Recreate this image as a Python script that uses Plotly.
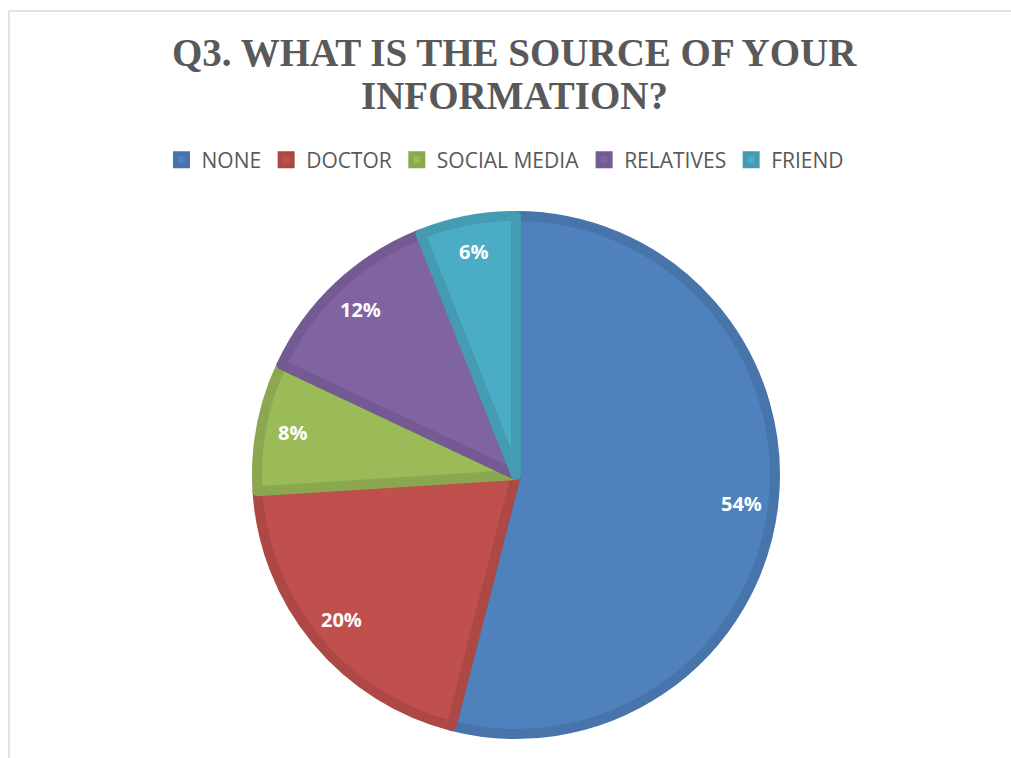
import math
import plotly.graph_objects as go

# Survey answers: source of information
categories = ["NONE", "DOCTOR", "SOCIAL MEDIA", "RELATIVES", "FRIEND"]
shares = [54, 20, 8, 12, 6]

fill_colors = ["#4F81BD", "#C0504D", "#9BBB59", "#8064A2", "#4BACC6"]
edge_colors = ["#4774AA", "#AD4845", "#8BA850", "#735A92", "#449BB2"]

title_lines = ["Q3. WHAT IS THE SOURCE OF YOUR", "INFORMATION?"]

W, H = 1011, 758
CX, CY, R = 516, 475, 264      # pie centre and outer radius in pixels
EDGE = 10                      # slice outline width

r_in = R - EDGE / 2
fig = go.Figure(
    go.Pie(
        labels=categories,
        values=shares,
        sort=False,
        direction="clockwise",
        rotation=0,
        marker=dict(colors=fill_colors, line=dict(color=edge_colors, width=EDGE)),
        textinfo="none",
        hoverinfo="label+percent",
        domain=dict(
            x=[(CX - r_in) / W, (CX + r_in) / W],
            y=[1 - (CY + r_in) / H, 1 - (CY - r_in) / H],
        ),
    )
)

# percentage labels placed along each slice's bisector
annotations = []
total = sum(shares)
cum = 0
for v in shares:
    theta = 2 * math.pi * (cum + v / 2) / total
    cum += v
    rr = 0.86 * R
    px = CX + rr * math.sin(theta)
    py = CY - rr * math.cos(theta)
    annotations.append(dict(
        x=px / W, y=1 - py / H, xref="paper", yref="paper",
        text=f"{round(100 * v / total)}%", showarrow=False,
        font=dict(family="Open Sans", size=20, color="white", weight="bold"),
        xanchor="center", yanchor="middle",
    ))

# two-line title
for i, line in enumerate(title_lines):
    annotations.append(dict(
        x=514 / W, y=1 - (67 + 43 * i) / H, xref="paper", yref="paper",
        text=f"<b>{line}</b>", showarrow=False,
        font=dict(family="Liberation Serif", size=39, color="#595959"),
        xanchor="center", yanchor="bottom", yshift=-9,
    ))

fig.update_layout(
    width=W, height=H,
    margin=dict(l=0, r=0, t=0, b=0),
    paper_bgcolor="white",
    plot_bgcolor="white",
    showlegend=True,
    legend=dict(
        orientation="h", x=0.5, xanchor="center",
        y=1 - 160 / H, yanchor="middle",
        font=dict(family="Open Sans", size=21, color="#595959"),
        traceorder="normal",
    ),
    annotations=annotations,
    shapes=[dict(
        type="rect", xref="paper", yref="paper", layer="below",
        x0=9 / W, x1=1.05, y0=-0.05, y1=1 - 11 / H,
        line=dict(color="#D9D9D9", width=1.5),
    )],
)

fig.write_html("out.html")
